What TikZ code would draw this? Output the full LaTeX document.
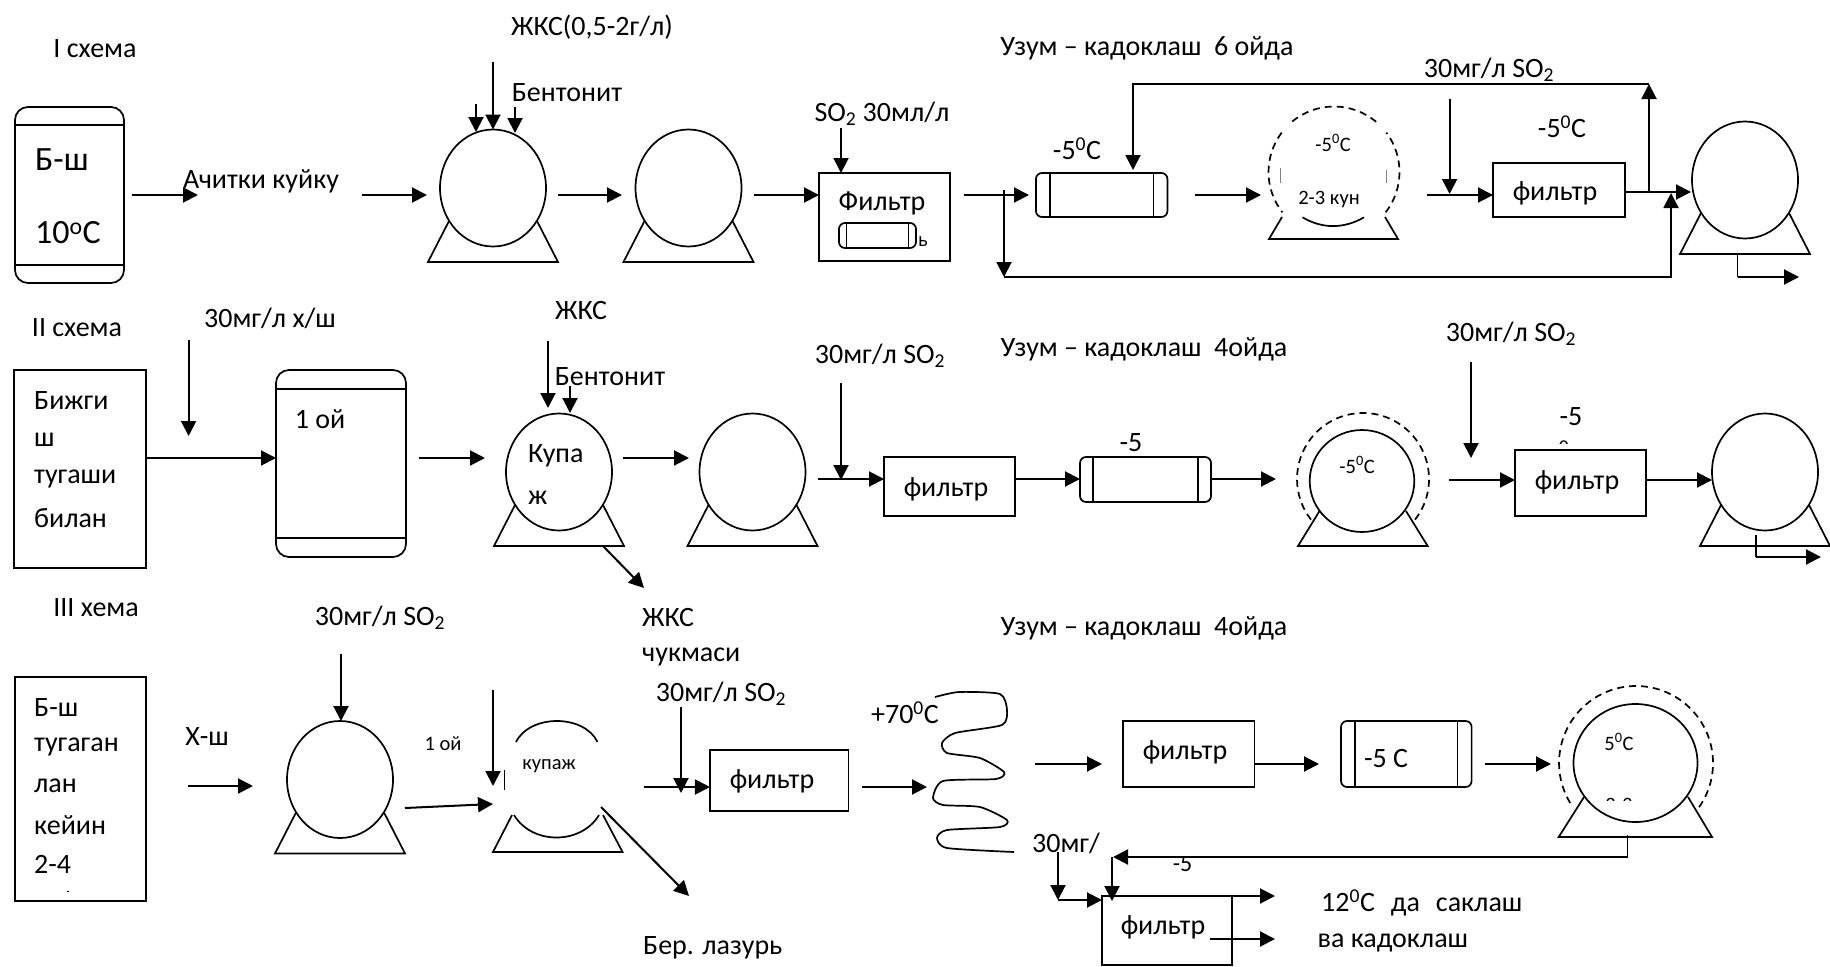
\documentclass[tikz,border=0pt]{standalone}
\usepackage{fontspec}
\setmainfont{Carlito}
\usetikzlibrary{calc,shapes.geometric,arrows.meta}
\tikzset{
  flow/.style={line width=2pt,-{Triangle[length=15pt,width=15pt]}},
  part/.style={draw,line width=1.7pt,inner sep=0pt,outer sep=0pt},
  tankbody/.style={part,ellipse,fill=white,minimum width=106pt,minimum height=117pt},
  boxpart/.style={part,rectangle},
  capsule/.style={part,rectangle,rounded corners=6pt},
  ringline/.style={line width=1.7pt,dash pattern=on 7pt off 5pt},
  lbl/.style={font=\fontsize{28}{32}\selectfont,inner sep=0pt,yshift=-2pt},
  lblbig/.style={font=\fontsize{34}{38}\selectfont,inner sep=0pt,yshift=-2pt},
  lblsmall/.style={font=\fontsize{20.5}{24}\selectfont,inner sep=0pt},
}
\newcommand{\standat}[4]{\draw[line width=1.7pt] ($(#1)+(-#2,#3)$) -- ($(#1)+(-65,#4)$) -- ($(#1)+(65,#4)$) -- ($(#1)+(#2,#3)$);}
\newcommand{\tankat}[2]{\node[tankbody] (#1) at (#2) {};\standat{#1}{44}{33}{74}}
\newcommand{\capsuleat}[5]{\node[capsule,minimum width=#3,minimum height=#4] (#1) at (#2) {};
  \draw[line width=1.7pt] ($(#1.north west)+(#5,0)$) -- ($(#1.south west)+(#5,0)$);
  \draw[line width=1.7pt] ($(#1.north east)+(-#5,0)$) -- ($(#1.south east)+(-#5,0)$);}
\newcommand{\towerat}[5]{\node[capsule,rounded corners=13pt,minimum width=#3,minimum height=#4] (#1) at (#2) {};
  \draw[line width=1.7pt] ($(#1.north west)+(0,-#5)$) -- ($(#1.north east)+(0,-#5)$);
  \draw[line width=1.7pt] ($(#1.south west)+(0,#5)$) -- ($(#1.south east)+(0,#5)$);}
\newcommand{\ringarc}[4]{\draw[ringline] ($(#1)+(#3:#2)$) arc[start angle=#3,end angle=#4,radius=#2];}
\newcommand{\flowpair}[3]{\coordinate (#1s) at (#2);\coordinate (#1e) at (#3);\draw[flow] (#1s) -- (#1e);}
\begin{document}
\begin{tikzpicture}[x=1pt,y=-1pt]
\useasboundingbox (0,0) rectangle (1830,966);

\node[lbl] (title1) at (95,47) {I схема};
\towerat{must1}{69.5,195}{109pt}{176pt}{18pt}
\node[lblbig,anchor=west] (must1a) at (35,158) {Б-ш};
\node[lblbig,anchor=west] (must1b) at (35,231) {10\textsuperscript{o}С};
\flowpair{a1}{132,195}{198,195}
\node[lbl] (clear1) at (261,179) {Ачитки куйку};
\flowpair{a2}{362,195}{427,195}
\tankat{tank1a}{493,188}
\node[lbl] (zhks1) at (592,25) {ЖКС(0,5-2г/л)};
\node[lbl] (bent1) at (567,91) {Бентонит};
\coordinate (z1s) at (493,62);
\draw[flow] (z1s) -- (tank1a.north);
\flowpair{z2}{476,104}{476,132}
\flowpair{z3}{515,107}{515,133}
\flowpair{a3}{558,195}{622,195}
\tankat{tank1b}{688.5,188}
\coordinate (a4s) at (753.5,195);
\node[boxpart,minimum width=131pt,minimum height=88pt] (filt1) at (884.5,217) {};
\draw[flow] (a4s) -- (filt1.west |- a4s);
\node[lbl] (so1) at (882,112) {SO\textsubscript{2} 30мл/л};
\coordinate (so1s) at (841,128);
\draw[flow] (so1s) -- (so1s |- filt1.north);
\node[lbl] (filt1t) at (882,201) {Фильтр};
\capsuleat{mini1}{877.5,235.5}{77pt}{25pt}{7.5pt}
\node[lblsmall] (mini1t) at (923,242) {ь};
\flowpair{a5}{964,195}{1029,195}
\capsuleat{cold1}{1101.7,195}{131.5pt}{44pt}{14pt}
\node[lbl] (cold1t) at (1077,147) {-5\textsuperscript{0}С};
\node[lbl] (grape1) at (1147,46) {Узум – кадоклаш\ \ 6 ойда};
\flowpair{a6}{1195,195}{1261,195}
\coordinate (v1) at (1334,172);
\ringarc{v1}{65.5pt}{50}{130}
\ringarc{v1}{65.5pt}{143}{218}
\ringarc{v1}{65.5pt}{-38}{37}
\draw[line width=.6pt,gray] (1280,168) -- (1280,183) (1386.5,170) -- (1386.5,183);
\draw[line width=1.7pt] (1282,217) -- (1269,239) -- (1398,239) -- (1385,217);
\draw[line width=1.7pt] (1302.5,217.3) .. controls (1322,229) and (1344,229) .. (1364,217.3);
\node[lblsmall] (v1t) at (1333,143) {-5\textsuperscript{0}С};
\node[lblsmall] (v1d) at (1329,199) {2-3 кун};
\node[lbl] (so1b) at (1489,68) {30мг/л SO\textsubscript{2}};
\coordinate (so1bs) at (1449.6,99);
\coordinate (so1be) at (1449.6,194);
\draw[flow] (so1bs) -- (so1be);
\coordinate (a7s) at (1427,195);
\node[boxpart,minimum width=132pt,minimum height=54pt] (filt2) at (1559,190) {};
\draw[flow] (a7s) -- (filt2.west |- a7s);
\node[lbl] (filt2t) at (1555,191) {фильтр};
\node[lbl] (cold2t) at (1562,125) {-5\textsuperscript{0}С};
\tankat{tank1c}{1745,180}
\coordinate (a8s) at (1626,192);
\coordinate (a8e) at (1691,192);
\draw[flow] (a8s) -- (a8e);
\coordinate (b1) at (1649,192);
\coordinate (b2) at (1649,84);
\coordinate (b3) at (1133,84);
\coordinate (b4) at (1133,170);
\draw[flow] (b1) -- (b2);
\draw[flow] (b2) -- (b3) -- (b4);
\coordinate (r1) at (1004,190);
\coordinate (r2) at (1004,277);
\coordinate (r3) at (1671,277);
\coordinate (r4) at (1671,193);
\draw[flow] (r1) -- (r2);
\draw[flow] (r2) -- (r3) -- (r4);
\coordinate (o1a) at (1737.5,253);
\coordinate (o1b) at (1737.5,277);
\coordinate (o1c) at (1799,277);
\draw[line width=1.3pt] (o1a) -- (o1b);
\draw[flow] (o1b) -- (o1c);

\node[lbl] (title2) at (77,326) {II схема};
\node[boxpart,minimum width=132pt,minimum height=198pt] (must2) at (80,469) {};
\node[lbl,anchor=west] (must2a) at (34,399) {Бижги};
\node[lbl,anchor=west] (must2b) at (34,438) {ш};
\node[lbl,anchor=west] (must2c) at (34,477) {тугаши};
\node[lbl,anchor=west] (must2d) at (34,516) {билан};
\node[lbl] (sugar2) at (270,316) {30мг/л х/ш};
\coordinate (c1s) at (188.6,340);
\coordinate (c1e) at (188.6,436);
\draw[flow] (c1s) -- (c1e);
\towerat{tower2}{341,463.5}{130pt}{187pt}{19pt}
\coordinate (c2) at (must2.east |- 0,458);
\draw[flow] (c2) -- (tower2.west |- c2);
\node[lbl] (tower2t) at (320,417) {1 ой};
\flowpair{c3}{419,458}{485,458}
\tankat{tank2a}{559,472}
\node[lbl,anchor=west] (tank2t) at (528,454) {Купа};
\node[lbl,anchor=west] (tank2u) at (528,496) {ж};
\node[lbl] (zhks2) at (581,309) {ЖКС};
\node[lbl] (bent2) at (610,375) {Бентонит};
\flowpair{c4}{548,341}{548,408}
\flowpair{c5}{570,386}{570,413}
\coordinate (c6a) at (603,546);
\coordinate (c6b) at (644,588);
\draw[flow] (c6a) -- (c6b);
\node[lbl,anchor=west] (zhks2b) at (642,616) {ЖКС};
\node[lbl,anchor=west] (zhks2c) at (642,655) {чукмаси};
\flowpair{c7}{623,458}{689,458}
\tankat{tank2b}{752.5,472}
\node[lbl] (so2) at (880,354) {30мг/л SO\textsubscript{2}};
\flowpair{c8}{841,383}{841,480}
\node[boxpart,minimum width=131pt,minimum height=59pt] (filt3) at (949.5,486.5) {};
\coordinate (c9s) at (818,479);
\draw[flow] (c9s) -- (filt3.west |- c9s);
\node[lbl] (filt3t) at (946,487) {фильтр};
\capsuleat{cold3}{1145.5,479.5}{131pt}{45pt}{13pt}
\draw[flow] (filt3.east |- c9s) -- (cold3.west |- c9s);
\node[lbl] (cold3t) at (1131,441) {-5};
\node[lbl] (grape2) at (1144,347) {Узум – кадоклаш\ \ 4ойда};
\flowpair{c10}{1211,479}{1276,479}
\coordinate (v2) at (1363,479);
\ringarc{v2}{66pt}{-38}{218}
\node[tankbody,minimum width=104.6pt,minimum height=102pt] (tank2c) at (1362,481) {};
\draw[line width=1.7pt] (1319.5,511) -- (1298,546) -- (1427.6,546) -- (1406,511);
\node[lblsmall] (tank2ct) at (1357,465) {-5\textsuperscript{0}С};
\node[lbl] (so3) at (1511,332) {30мг/л SO\textsubscript{2}};
\flowpair{c11}{1471,362}{1471,458}
\node[boxpart,minimum width=131pt,minimum height=66pt] (filt4) at (1580.5,483) {};
\coordinate (c12s) at (1449,480);
\draw[flow] (c12s) -- (filt4.west |- c12s);
\node[lbl] (filt4t) at (1577,480) {фильтр};
\node[lbl] (cold4t) at (1571,415) {-5};
\begin{scope}
  \clip (1550,430) rectangle (1580,443);
  \node[lbl] (cold4u) at (1564,450) {\textsuperscript{0}};
\end{scope}
\tankat{tank2d}{1765,472}
\draw[flow] (filt4.east |- c12s) -- (tank2d.west |- c12s);
\coordinate (o2a) at (1756,535);
\coordinate (o2b) at (1756,557);
\coordinate (o2c) at (1821,557);
\draw[line width=1.3pt] (o2a) -- (o2b);
\draw[flow] (o2b) -- (o2c);

\node[lbl] (title3) at (96,606) {III хема};
\node[boxpart,minimum width=131pt,minimum height=224pt] (must3) at (80.5,789) {};
\node[lbl,anchor=west] (must3a) at (34,706) {Б-ш};
\node[lbl,anchor=west] (must3b) at (34,745) {тугаган};
\node[lbl,anchor=west] (must3c) at (34,784) {лан};
\node[lbl,anchor=west] (must3d) at (34,823) {кейин};
\node[lbl,anchor=west] (must3e) at (34,862) {2-4};
\draw[line width=.8pt] (66.5,891) -- (69,891);
\node[lbl] (yeast3) at (207,735) {Х-ш};
\flowpair{d1}{188,786}{253,786}
\tankat{tank3a}{340,779.5}
\node[lbl] (so4) at (380,616) {30мг/л SO\textsubscript{2}};
\coordinate (d2s) at (341,654);
\draw[flow] (d2s) -- (d2s |- tank3a.north);
\node[lblsmall] (age3) at (443,744) {1 ой};
\flowpair{d3}{405,808}{493,804}
\flowpair{d4}{493,690}{493,786}
\draw[line width=.8pt] (504.5,770) -- (504.5,790);
\coordinate (tank3b) at (557,779.5);
\draw[line width=1.7pt] (516,742) .. controls (530,714) and (584,714) .. (597.5,742);
\draw[line width=1.7pt] (514,815) .. controls (532,845) and (581,845) .. (599,815);
\draw[line width=1.7pt] (512,815) -- (493,852) -- (622.5,852) -- (603,815);
\node[lblsmall] (tank3t) at (549,766) {купаж};
\flowpair{d5}{601,807}{689,896}
\node[lbl,anchor=west] (lazur) at (643,946) {Бер. лазурь};
\node[lbl] (so5) at (721,692) {30мг/л SO\textsubscript{2}};
\flowpair{d6}{681,707}{681,793}
\node[boxpart,minimum width=138.5pt,minimum height=61pt] (filt5) at (779.2,780.5) {};
\coordinate (d7s) at (644,787);
\draw[flow] (d7s) -- (filt5.west |- d7s);
\node[lbl] (filt5t) at (772,779) {фильтр};
\flowpair{d8}{862,787}{927,787}
\node[lbl] (heat) at (905,711) {+70\textsuperscript{0}С};
\draw[line width=1.7pt] plot[smooth,tension=.4] coordinates {(935,697) (959,692) (1000,694) (1007,710) (1002,725) (955,733) (942,743) (947,753) (980,758) (1004,772) (996,779) (943,781) (933,798) (943,805) (980,807) (1007,820) (1000,827) (947,830) (937,838) (947,848) (1014,852)};
\node[lbl] (grape3) at (1144,626) {Узум – кадоклаш\ \ 4ойда};
\flowpair{d9}{1035,764}{1102,764}
\node[boxpart,minimum width=131.6pt,minimum height=66pt] (filt6) at (1188.8,754) {};
\node[lbl] (filt6t) at (1185,750) {фильтр};
\capsuleat{cold6}{1406.3,754}{130.6pt}{66pt}{14pt}
\coordinate (d10) at (filt6.east |- 0,764);
\draw[flow] (d10) -- (1319,764) coordinate (d10e);
\node[lbl] (cold6t) at (1386,757) {-5 С};
\flowpair{d11}{1485,764}{1551,764}
\coordinate (v3) at (1636,763);
\ringarc{v3}{77pt}{-35}{215}
\node[tankbody,minimum width=124pt,minimum height=118pt] (tank3c) at (1635.5,763) {};
\draw[line width=1.7pt] (1584,797) -- (1558.7,837) -- (1712,837) -- (1688,797);
\node[lblsmall] (tank3ct) at (1619,742) {5\textsuperscript{0}С};
\begin{scope}
  \clip (1600,790) rectangle (1640,800);
  \node[lblsmall] (tank3cd) at (1619,805) {2-3};
\end{scope}
\coordinate (e1) at (1627.6,835);
\coordinate (e2) at (1627.6,857);
\coordinate (e3) at (1113,857);
\draw[line width=1.3pt] (e1) -- (e2);
\draw[flow] (e2) -- (e3);
\begin{scope}
  \clip (1165,858) rectangle (1200,880);
  \node[font=\fontsize{24}{28}\rmfamily\selectfont,inner sep=0pt] (cold7t) at (1182.5,864) {-5};
\end{scope}
\node[lbl] (so6) at (1066,841) {30мг/};
\node[boxpart,minimum width=130pt,minimum height=69pt] (filt7) at (1167,930.5) {};
\coordinate (e4) at (1112,857);
\coordinate (e5) at (1112,901);
\draw[flow] (e4) -- (e5);
\coordinate (e6) at (1058,852);
\coordinate (e7) at (1058,900);
\draw[flow] (e6) -- (e7);
\draw[flow] (e7) -- (filt7.west |- e7);
\node[lbl] (filt7t) at (1163,925) {фильтр};
\flowpair{e8}{1210,896}{1275,896}
\flowpair{e9}{1210,939}{1275,939}
\node[lbl,anchor=west] (keep1) at (1321,901) {12\textsuperscript{0}С\hspace{16pt}да\hspace{16pt}саклаш};
\node[lbl,anchor=west] (keep2) at (1317.5,941) {ва кадоклаш};
\end{tikzpicture}
\end{document}
